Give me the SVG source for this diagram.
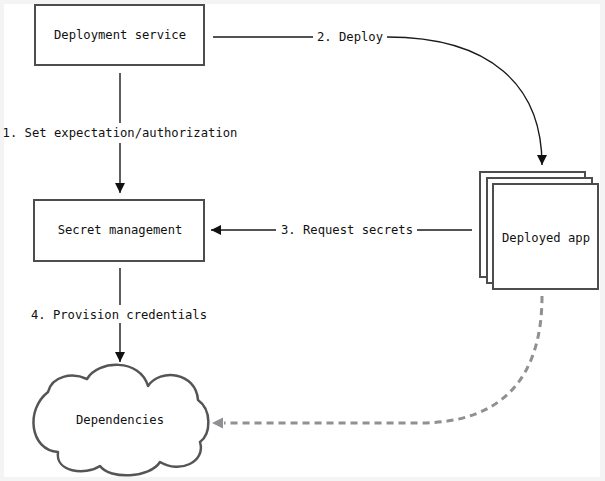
<svg xmlns="http://www.w3.org/2000/svg" width="605" height="481" viewBox="0 0 605 481">
<defs>
<style>
.box{fill:#fff;stroke:#4d4d4d;stroke-width:2}
.lbl{font-family:"DejaVu Sans Mono","Liberation Mono",monospace;font-size:12.2px;fill:#111;text-anchor:middle}
.ln{fill:none;stroke:#1a1a1a;stroke-width:1.4}
.dash{fill:none;stroke:#8f8f94;stroke-width:3;stroke-dasharray:7 5}
</style>
<marker id="ah" viewBox="0 0 10 10" refX="10" refY="5" markerWidth="10" markerHeight="10" markerUnits="userSpaceOnUse" orient="auto">
<path d="M0,0 L10,5 L0,10 Z" fill="#111"/>
</marker>
<marker id="ahg" viewBox="0 0 10 10" refX="10" refY="5" markerWidth="11" markerHeight="11" markerUnits="userSpaceOnUse" orient="auto">
<path d="M0,0 L10,5 L0,10 Z" fill="#8f8f94"/>
</marker>
</defs>
<rect x="0" y="0" width="605" height="481" fill="#f4f4f4"/>
<rect x="4" y="4" width="596" height="473" fill="#fff"/>

<g id="connectors">
<g id="c1">
<line class="ln" x1="120" y1="73" x2="120" y2="123"/>
<line class="ln" x1="120" y1="143" x2="120" y2="193" marker-end="url(#ah)"/>
<text class="lbl" x="120" y="137">1. Set expectation/authorization</text>
</g>
<g id="c2">
<line class="ln" x1="213" y1="37" x2="313" y2="37"/>
<path class="ln" d="M387,37 C490,37 542,85 542,165" marker-end="url(#ah)"/>
<text class="lbl" x="350" y="41">2. Deploy</text>
</g>
<g id="c3">
<line class="ln" x1="472" y1="230" x2="417" y2="230"/>
<line class="ln" x1="276" y1="230" x2="211" y2="230" marker-end="url(#ah)"/>
<text class="lbl" x="347" y="234">3. Request secrets</text>
</g>
<g id="c4">
<line class="ln" x1="120" y1="268" x2="120" y2="305"/>
<line class="ln" x1="120" y1="323" x2="120" y2="362" marker-end="url(#ah)"/>
<text class="lbl" x="119" y="319">4. Provision credentials</text>
</g>
<g id="c5">
<path class="dash" d="M542,296 C542,380 500,423 420,423 L224,423"/>
<path d="M212,423 L223,417.5 L223,428.5 Z" fill="#8f8f94"/>
</g>
</g>

<g id="deployment-service">
<rect class="box" x="35" y="5" width="169" height="60"/>
<text class="lbl" x="120" y="39">Deployment service</text>
</g>

<g id="secret-management">
<rect class="box" x="34" y="200" width="170" height="61"/>
<text class="lbl" x="120" y="234">Secret management</text>
</g>

<g id="deployed-app">
<rect class="box" x="480" y="172" width="105" height="105"/>
<rect class="box" x="487" y="178" width="105" height="105"/>
<rect class="box" x="493" y="184" width="105" height="105"/>
<text class="lbl" x="546" y="242">Deployed app</text>
</g>

<g id="dependencies">
<path d="M48,392 C52,376 72,372 87,379 C98,360 140,358 148,386 C160,368 196,372 198,400 C212,410 211,434 200,442 C206,462 180,474 160,462 C150,478 110,480 100,466 C85,476 55,472 58,452 C30,450 25,410 48,392 Z" fill="#fff" stroke="#555" stroke-width="2.5" stroke-linejoin="round"/>
<text class="lbl" x="120" y="424">Dependencies</text>
</g>
</svg>
